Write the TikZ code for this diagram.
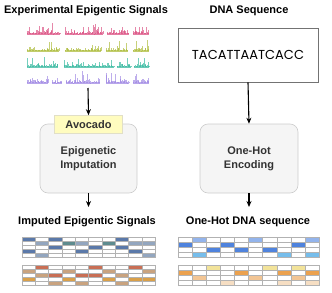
\documentclass[tikz,border=0pt]{standalone}
\usepackage{fontspec}
\setmainfont{Liberation Sans}
\newfontfamily\seqfont{Poppins}
\usetikzlibrary{arrows.meta}
\definecolor{sigpink}{HTML}{D9487C}
\definecolor{sigolive}{HTML}{A9B832}
\definecolor{sigteal}{HTML}{2DB59B}
\definecolor{sigpurple}{HTML}{9B82E2}
\definecolor{slate}{HTML}{5B79A9}
\definecolor{grayblue}{HTML}{93A6BF}
\definecolor{darkteal}{HTML}{5E8B8E}
\definecolor{rust}{HTML}{C96F55}
\definecolor{tan}{HTML}{C9A37F}
\definecolor{gold}{HTML}{D9A04A}
\definecolor{ohblue}{HTML}{4F83DD}
\definecolor{ohlight}{HTML}{93B4EC}
\definecolor{ohsky}{HTML}{76BDEB}
\definecolor{ohorange}{HTML}{EBA14E}
\definecolor{ohpeach}{HTML}{F2C594}
\definecolor{ohyellow}{HTML}{F2E39A}
\definecolor{ohpale}{HTML}{F6DEC3}
\tikzset{
  title/.style={font=\fontsize{11}{13}\selectfont\bfseries, inner sep=1pt},
  procbox/.style={draw=black!20, fill=black!4, rounded corners=8pt, line width=0.6pt,
    align=center, text=black!80, font=\fontsize{11}{14}\selectfont\bfseries},
  tagbox/.style={draw=yellow!45!black!25, fill=yellow!25, line width=0.6pt,
    text=black!80, font=\fontsize{11}{13}\selectfont\bfseries},
  seqbox/.style={draw=black!55, fill=white, line width=0.7pt, font=\seqfont\fontsize{13}{15}\selectfont},
  flow/.style={-{Stealth[length=6pt,width=5pt]}, line width=1.1pt},
  cell/.style={draw=black!30, line width=0.4pt}
}
\begin{document}
\begin{tikzpicture}[x=1pt, y=-1pt]
  \useasboundingbox (0,0) rectangle (332,292);
  % 제목
  \node[title] (exptitle) at (86,11) {Experimental Epigentic Signals};
  \node[title] (dnatitle) at (249,11) {DNA Sequence};
  \node[title] (imptitle) at (87,222) {Imputed Epigentic Signals};
  \node[title] (ohtitle) at (248,222) {One-Hot DNA sequence};
  % 신호 트랙
  \pgfmathsetseed{7}
  \foreach \base/\col/\segs in {34/sigpink/{27/60,65/103,107/129,133/149},
                               51/sigolive/{27/59,65/101,106/128,133/149},
                               67/sigteal/{27/58,64/114,117/131,134/149},
                               83/sigpurple/{27/48,52/62,66/100,106/129,133/149}} {
    \foreach \a/\b in \segs {
      \draw[\col, line width=0.5pt, opacity=0.7] (\a,\base) -- (\b,\base);
      \pgfmathtruncatemacro{\n}{(\b-\a)/0.6}
      \foreach \i in {0,...,\n} {
        \pgfmathsetmacro{\h}{0.5+3.2*rnd^2.5+9*rnd^11}
        \draw[\col, line width=0.45pt, opacity=0.65] (\a+\i*0.6,\base) -- ++(0,-\h);
      }
    }
  }
  \coordinate (sigend) at (88,88);
  % DNA 서열
  \node[seqbox, minimum width=140pt, minimum height=54pt] (dna) at (248,55) {TACATTAATCACC};
  % 처리 상자
  \node[procbox, minimum width=97pt, minimum height=69pt] (imp) at (88.5,158.5) {Epigenetic\\Imputation};
  \node[tagbox, minimum width=68pt, minimum height=18pt] (avo) at (88.5,124.5) {Avocado};
  \node[procbox, minimum width=98pt, minimum height=69pt] (enc) at (249,158.5) {One-Hot\\Encoding};
  \coordinate (impend) at (88.5,207);
  \coordinate (encend) at (249,207);
  % 화살표
  \draw[flow] (sigend) -- (avo.north);
  \draw[flow] (dna.south) -- (enc.north);
  \draw[flow] (imp.south) -- (impend);
  \draw[flow] (enc.south) -- (encend);
  % 보정된 신호 격자
  \foreach \c/\r/\col in {1/1/slate,1/4/slate,2/2/grayblue,2/5/grayblue,3/1/slate,3/3/slate,
                          4/2/darkteal,5/2/grayblue,5/4/slate,6/3/slate,7/2/darkteal,8/1/slate,
                          8/3/slate,9/2/grayblue,9/4/slate,10/2/grayblue,10/5/grayblue}
    \fill[\col] ({22+(\c-1)*13.3},{237+(\r-1)*4}) rectangle ++(13.3,4);
  \foreach \c/\r/\col in {1/2/tan,1/4/gold,2/1/rust,2/3/tan,3/3/rust,3/5/tan,4/2/tan,4/4/gold,
                          5/3/rust,5/5/tan,6/1/rust,6/3/rust,7/2/tan,7/4/gold,8/3/tan,8/5/tan,
                          9/1/rust,9/4/gold,10/2/tan,10/4/gold}
    \fill[\col] ({22+(\c-1)*13.3},{265+(\r-1)*4}) rectangle ++(13.3,4);
  \foreach \c in {0,...,9}
    \foreach \r in {0,...,4} {
      \draw[cell] ({22+\c*13.3},{237+\r*4}) rectangle ++(13.3,4);
      \draw[cell] ({22+\c*13.3},{265+\r*4}) rectangle ++(13.3,4);
    }
  % 원-핫 격자
  \foreach \c/\r/\col in {1/2/ohblue,2/1/ohlight,2/4/ohsky,3/3/ohblue,4/2/ohblue,5/3/ohblue,
                          6/1/ohlight,7/3/ohblue,8/4/ohsky,9/2/ohblue,10/1/ohlight,10/4/ohsky}
    \fill[\col] ({178+(\c-1)*14.1},{237+(\r-1)*5}) rectangle ++(14.1,5);
  \foreach \c/\r/\col in {1/2/ohorange,2/3/ohpeach,3/1/ohyellow,4/4/ohpale,5/2/ohorange,
                          6/3/ohpeach,7/1/ohyellow,8/2/ohorange,8/4/ohpale,9/1/ohyellow,
                          9/3/ohpeach,10/2/ohorange,10/4/ohpale}
    \fill[\col] ({178+(\c-1)*14.1},{265+(\r-1)*5}) rectangle ++(14.1,5);
  \foreach \c in {0,...,9}
    \foreach \r in {0,...,3} {
      \draw[cell] ({178+\c*14.1},{237+\r*5}) rectangle ++(14.1,5);
      \draw[cell] ({178+\c*14.1},{265+\r*5}) rectangle ++(14.1,5);
    }
\end{tikzpicture}
\end{document}
